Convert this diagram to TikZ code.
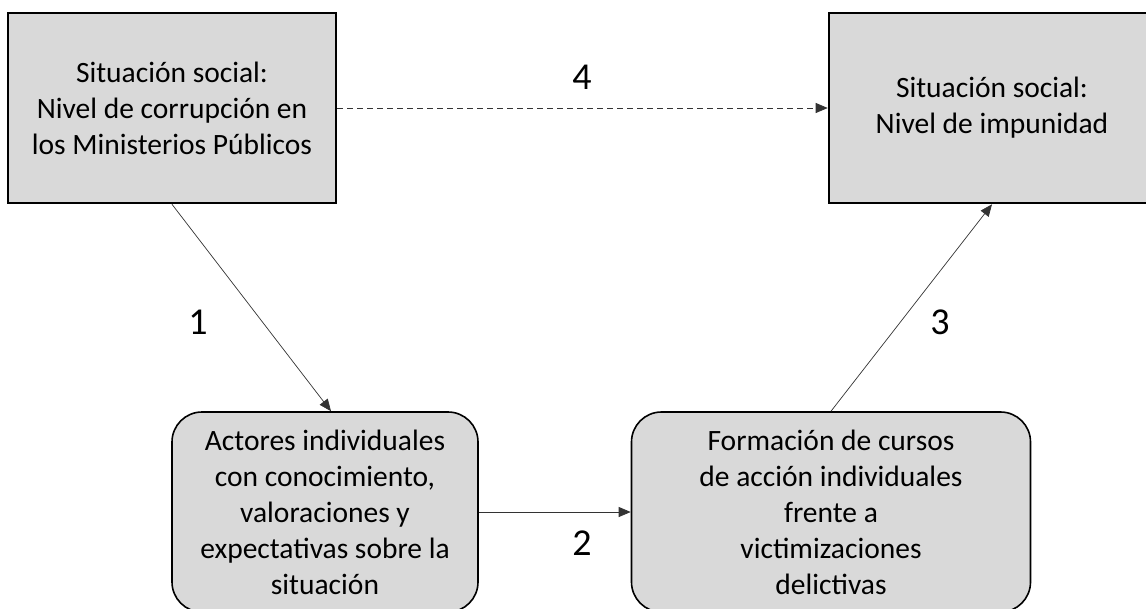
\documentclass[tikz,border=0pt]{standalone}
\usepackage{fontspec}
\setmainfont{Carlito}
\usetikzlibrary{arrows.meta}
\definecolor{boxgray}{HTML}{D9D9D9}
\begin{document}
\begin{tikzpicture}[x=1pt, y={(0pt,-1pt)},
        every node/.append style = {font = \fontsize{29.5}{36}\selectfont},
        sqbox/.style = {draw, line width = 2.6pt, fill = boxgray, align = center, inner sep = 0pt},
        rndbox/.style = {draw, line width = 1.6pt, fill = boxgray, align = center, inner sep = 0pt, rounded corners = 30pt},
        numlabel/.style = {font = \fontsize{38}{40}\selectfont},
        link/.style = {-{Triangle[length = 12pt, width = 10pt]}, line width = 0.7pt, black!80}]
    \useasboundingbox (0,0) rectangle (1146,608);
    % situaciones sociales
    \node[sqbox, minimum width = 328pt, minimum height = 190pt] (sitcorr) at (172,108) {Situación social:\\Nivel de corrupción en\\los Ministerios Públicos};
    \node[sqbox, minimum width = 326pt, minimum height = 190pt] (sitimp) at (992,108) {Situación social:\\Nivel de impunidad};
    % nivel individual
    \node[rndbox, minimum width = 306pt, minimum height = 200pt] (actores) at (325,512) {Actores individuales\\con conocimiento,\\valoraciones y\\expectativas sobre la\\situación};
    \node[rndbox, minimum width = 399pt, minimum height = 200pt] (cursos) at (831,512) {Formación de cursos\\de acción individuales\\frente a\\victimizaciones\\delictivas};
    % relaciones
    \draw[link] (sitcorr.south) -- ([xshift = 6pt]actores.north);
    \draw[link] (actores.east) -- (cursos.west);
    \draw[link] (cursos.north) -- (sitimp.south);
    \draw[link, dashed, dash pattern = on 6pt off 4pt] (sitcorr.east) -- (sitimp.west);
    \node[numlabel] (n1) at (198,322) {1};
    \node[numlabel] (n2) at (582,543) {2};
    \node[numlabel] (n3) at (940,322) {3};
    \node[numlabel] (n4) at (582,77) {4};
\end{tikzpicture}
\end{document}
